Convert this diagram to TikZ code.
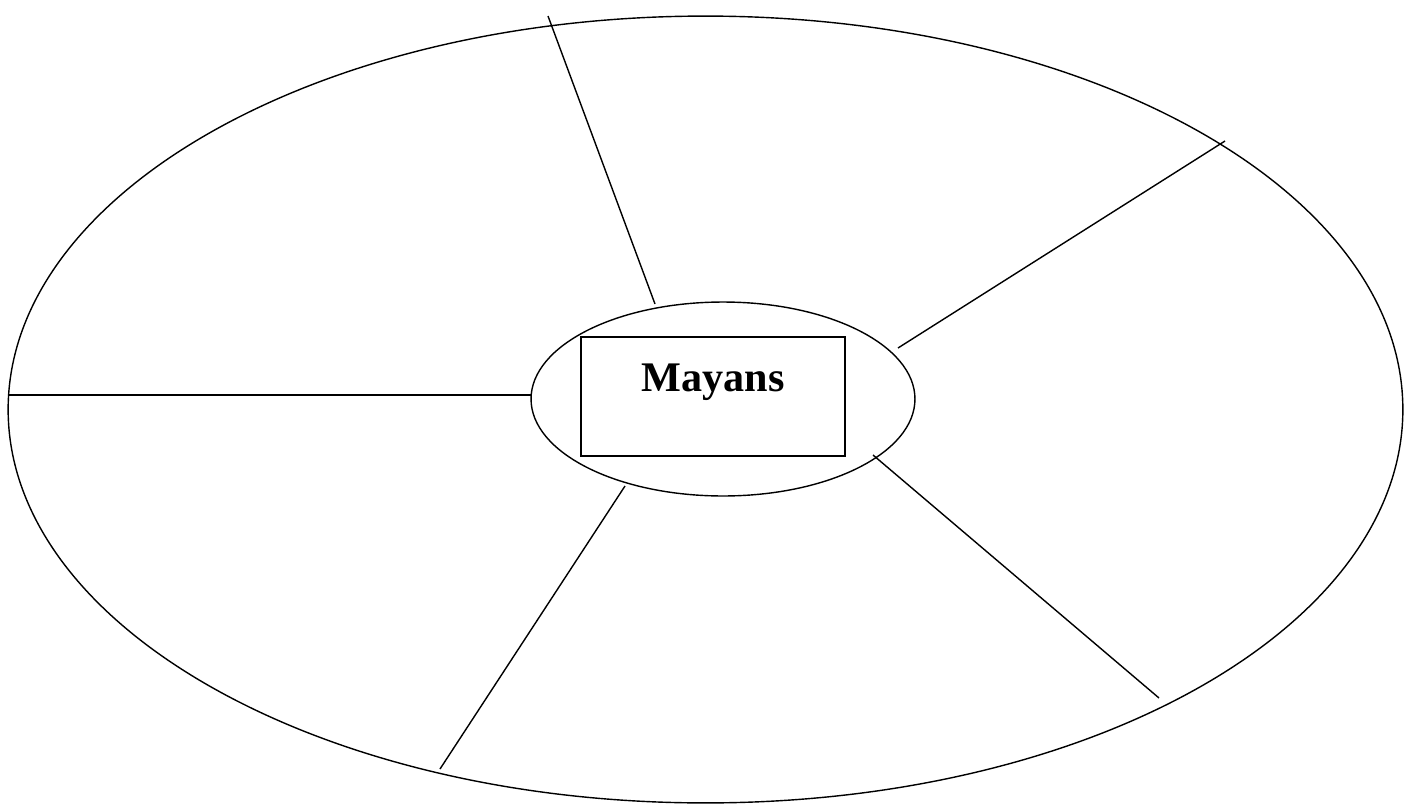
\documentclass[tikz,border=0pt]{standalone}
\usepackage{fontspec}
\setmainfont{Liberation Serif}
\usetikzlibrary{shapes.geometric}

\begin{document}
\begin{tikzpicture}[x=0.02cm,y=-0.02cm,line width=0.8pt,
  oval/.style={ellipse,draw,inner sep=0pt},
  spoke/.style={draw}]
\useasboundingbox (0,0) rectangle (1410,805);
\node [oval,minimum width=27.9cm,minimum height=15.74cm] (outer) at (705.5,409.5) {};
\node [oval,minimum width=7.68cm,minimum height=3.88cm] (hub) at (723,399) {};
\node [draw,inner sep=0pt,minimum width=5.28cm,text height=1.08cm,text depth=1.3cm,
  font=\fontsize{24}{28}\selectfont\bfseries] (title) at (713,396.5) {Mayans};
\coordinate (a1) at (548,16);   \coordinate (a2) at (655,304);
\coordinate (b1) at (1225,141); \coordinate (b2) at (898,348);
\coordinate (c1) at (8,395);    \coordinate (c2) at (531,395);
\coordinate (d1) at (440,769);  \coordinate (d2) at (625,486);
\coordinate (e1) at (1159,698); \coordinate (e2) at (873,455);
\foreach \s in {a,b,c,d,e}
  \draw [spoke] (\s1) -- (\s2);
\end{tikzpicture}
\end{document}
